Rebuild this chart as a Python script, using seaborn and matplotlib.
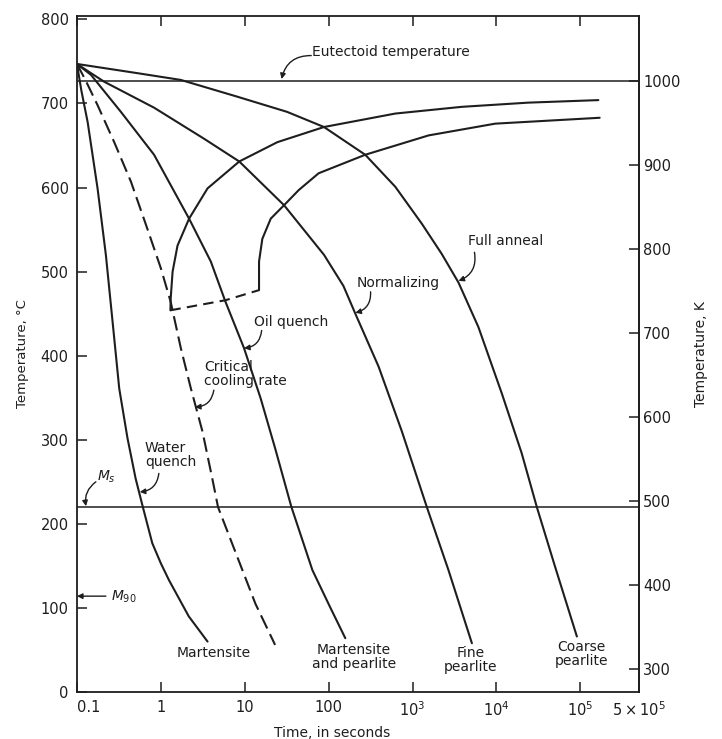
import matplotlib
matplotlib.use("Agg")
import matplotlib.pyplot as plt
import seaborn as sns
from matplotlib.ticker import FixedLocator, NullLocator

# cooling curves: time in s, temperature in deg C
water_t = [0.1, 0.113, 0.134, 0.176, 0.221, 0.266, 0.319, 0.40, 0.50, 0.61, 0.79, 1.0, 1.25, 2.15, 3.6]
water_T = [747, 715, 678, 599, 520, 440, 361, 302, 254, 220, 177, 153, 133, 90, 60]

critical_t = [0.1, 0.126, 0.176, 0.278, 0.44, 0.69, 1.0, 1.31, 1.73, 2.28, 3.13, 4.1,
              4.8, 7.3, 13.4, 23]
critical_T = [747, 728, 698, 654, 607, 551, 504, 464, 409, 361, 310, 254,
              220, 173, 105, 56]

oil_t = [0.1, 0.147, 0.334, 0.83, 2.17, 3.94, 5.9, 9.8, 15.5, 23, 36, 64, 104, 158]
oil_T = [747, 734, 690, 639, 563, 512, 464, 409, 349, 290, 220, 145, 101, 64]

normal_t = [0.1, 0.21, 0.83, 3.28, 8.6, 29.4, 88, 150, 208, 394, 746, 1480, 2680, 5100]
normal_T = [747, 726, 695, 658, 631, 579, 520, 483, 450, 387, 310, 220, 145, 58]

anneal_t = [0.1, 0.53, 1.73, 8.2, 32, 88, 273, 622, 1290, 2230, 3530, 6100, 11600,
            20000, 30300, 50000, 91000]
anneal_T = [747, 736, 728, 708, 690, 672, 639, 601, 557, 521, 487, 434, 355,
            284, 220, 149, 66]

# transformation start / finish lines
start_t = [1.3, 1.31, 1.38, 1.58, 2.17, 3.6, 8.6, 24.5, 88, 622, 3860, 24000, 164000]
start_T = [454, 468, 500, 531, 563, 599, 631, 654, 672, 688, 696, 701, 704]

finish_t = [14.8, 14.8, 16.2, 20.4, 29.4, 44, 76, 273, 1550, 9660, 170000]
finish_T = [478, 512, 539, 563, 579, 597, 617, 639, 662, 676, 683]

nose_t = [1.3, 5.9, 14.8]
nose_T = [454, 466, 478]

eutectoid = 727
ms_temp = 220
m90_temp = 114

x_ticks = [0.1, 1, 10, 100, 1e3, 1e4, 1e5, 5e5]
x_labels = ["0.1", "1", "10", "100", "$10^3$", "$10^4$", "$10^5$", "$5\\times10^5$"]
c_ticks = [0, 100, 200, 300, 400, 500, 600, 700, 800]
k_ticks = [300, 400, 500, 600, 700, 800, 900, 1000]

ink = "#1e1e1e"

sns.set_style("ticks")
plt.rcParams["font.family"] = ["DejaVu Sans"]

fig = plt.figure(figsize=(7.22, 7.39), dpi=100)
ax = fig.add_axes([0.1066, 0.0636, 0.7784, 0.9147])
ax.set_xscale("log")

solid = dict(color=ink, linewidth=1.5, sort=False, estimator=None, ax=ax)
for t, T in [(water_t, water_T), (oil_t, oil_T), (normal_t, normal_T),
             (anneal_t, anneal_T), (start_t, start_T), (finish_t, finish_T)]:
    sns.lineplot(x=t, y=T, **solid)

sns.lineplot(x=critical_t, y=critical_T, color=ink, linewidth=1.5, sort=False,
             estimator=None, ax=ax, linestyle=(0, (7, 3)))
sns.lineplot(x=nose_t, y=nose_T, color=ink, linewidth=1.5, sort=False,
             estimator=None, ax=ax, linestyle=(0, (5, 3)))

ax.axhline(eutectoid, color=ink, linewidth=1.1)
ax.axhline(ms_temp, color=ink, linewidth=1.1)

ax.set_xlim(0.1, 5e5)
ax.set_ylim(0, 804)
ax.xaxis.set_major_locator(FixedLocator(x_ticks))
ax.xaxis.set_minor_locator(NullLocator())
ax.set_xticklabels(x_labels)
ax.get_xticklabels()[0].set_ha("left")
ax.set_yticks(c_ticks)
ax.tick_params(axis="both", direction="in", length=7, width=1.1, labelsize=10.5, colors=ink)
ax.tick_params(axis="x", top=True, pad=6)
ax.tick_params(axis="y", right=False, pad=6)
for s in ax.spines.values():
    s.set_color(ink)
    s.set_linewidth(1.3)
    s.set_visible(True)

ax.set_ylabel("Temperature, °C", fontsize=9.5, color=ink, labelpad=8)
ax.set_xlabel("Time, in seconds", fontsize=10, color=ink)
ax.xaxis.set_label_coords(0.454, -0.05)

sec = ax.secondary_yaxis("right", functions=(lambda c: c + 273, lambda k: k - 273))
sec.set_yticks(k_ticks)
sec.tick_params(direction="in", length=7, width=1.1, labelsize=10.5, colors=ink, pad=3)
sec.spines["right"].set_color(ink)
sec.spines["right"].set_linewidth(1.3)
sec.set_ylabel("Temperature, K", fontsize=10, color=ink, labelpad=10)


def arrow(tail, head, rad):
    ax.annotate("", xy=head, xytext=tail,
                arrowprops=dict(arrowstyle="-|>", color=ink, lw=1.0,
                                connectionstyle=f"arc3,rad={rad}",
                                mutation_scale=8, shrinkA=0, shrinkB=0))


txt = dict(fontsize=10, color=ink)
ax.text(63, 761, "Eutectoid temperature", ha="left", va="center", **txt)
arrow((62, 757), (27.5, 729), 0.4)

ax.text(4640, 537, "Full anneal", ha="left", va="center", **txt)
arrow((5470, 523), (3530, 489), -0.4)

ax.text(215, 487, "Normalizing", ha="left", va="center", **txt)
arrow((316, 476), (208, 451), -0.4)

ax.text(12.8, 440, "Oil quench", ha="left", va="center", **txt)
arrow((15.9, 430), (9.8, 409), -0.4)

ax.text(3.25, 378, "Critical\ncooling rate", ha="left", va="center", linespacing=1.0, **txt)
arrow((4.28, 359), (2.55, 339), -0.4)

ax.text(0.645, 282, "Water\nquench", ha="left", va="center", linespacing=1.0, **txt)
arrow((0.946, 260), (0.56, 238), -0.4)

ax.text(0.173, 256, "$M_s$", ha="left", va="center", **txt)
arrow((0.168, 250), (0.128, 221), 0.3)

ax.text(0.254, 113, "$M_{90}$", ha="left", va="center", **txt)
arrow((0.221, m90_temp), (0.1, m90_temp), 0.0)

ax.text(4.28, 46, "Martensite", ha="center", va="center", **txt)
ax.text(199, 42, "Martensite\nand pearlite", ha="center", va="center", linespacing=1.0, **txt)
ax.text(4900, 38, "Fine\npearlite", ha="center", va="center", linespacing=1.0, **txt)
ax.text(1.03e5, 45, "Coarse\npearlite", ha="center", va="center", linespacing=1.0, **txt)

fig.savefig("out.png", dpi=100)
